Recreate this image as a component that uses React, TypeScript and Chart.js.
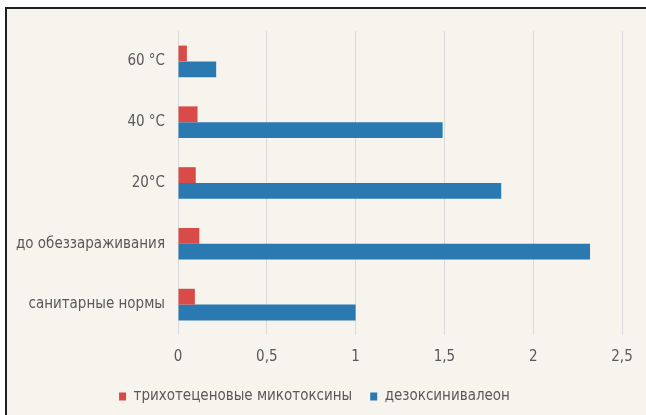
import React, { useEffect, useRef } from "react";
import { Chart, registerables } from "chart.js";

Chart.register(...registerables);

const categories = ["60 °C", "40 °C", "20°C", "до обеззараживания", "санитарные нормы"];
const trichothecenes = [0.05, 0.11, 0.1, 0.12, 0.095];
const deoxynivalenol = [0.215, 1.49, 1.82, 2.32, 1.0];
const seriesNames = ["трихотеценовые микотоксины", "дезоксинивалеон"];
const xTicks = [0, 0.5, 1, 1.5, 2, 2.5];

const FONT = "'Liberation Sans Narrow', 'DejaVu Sans Condensed', 'Open Sans', sans-serif";
const TEXT = "#595959";

export default function App() {
  const ref = useRef<HTMLCanvasElement | null>(null);
  useEffect(() => {
    if (!ref.current) return;
    const chart = new Chart(ref.current, {
      type: "bar",
      data: {
        labels: categories,
        datasets: [
          {
            label: seriesNames[0],
            data: trichothecenes,
            backgroundColor: "#d94b48",
            categoryPercentage: 0.52,
            barPercentage: 1.0,
          },
          {
            label: seriesNames[1],
            data: deoxynivalenol,
            backgroundColor: "#2a7ab1",
            categoryPercentage: 0.52,
            barPercentage: 1.0,
          },
        ],
      },
      options: {
        indexAxis: "y",
        animation: false,
        responsive: false,
        maintainAspectRatio: false,
        layout: { padding: { top: 18, right: 24, left: 0, bottom: 0 } },
        scales: {
          x: {
            min: 0,
            max: 2.5,
            afterBuildTicks: (axis: any) => {
              axis.ticks = xTicks.map((v) => ({ value: v }));
            },
            afterFit: (axis: any) => {
              axis.height = 36;
            },
            grid: { color: "#d9d9d9", drawTicks: false, lineWidth: 1 },
            border: { display: false },
            ticks: {
              padding: 13,
              color: TEXT,
              font: { family: FONT, size: 15 },
              callback: (v: any) => String(v).replace(".", ","),
            },
          },
          y: {
            afterFit: (axis: any) => {
              axis.width = 171;
            },
            grid: { display: false, drawTicks: false },
            border: { display: false },
            ticks: {
              padding: 13,
              color: TEXT,
              font: { family: FONT, size: 15 },
            },
          },
        },
        plugins: {
          legend: {
            position: "bottom",
            labels: {
              boxWidth: 7,
              boxHeight: 8,
              color: TEXT,
              font: { family: FONT, size: 15 },
              padding: 18,
            },
          },
          tooltip: { enabled: false },
        },
      },
    });
    return () => chart.destroy();
  }, []);
  return (
    <div
      style={{
        position: "absolute",
        left: 5,
        top: 7,
        width: 660,
        height: 420,
        borderTop: "2px solid #1e1e1e",
        borderLeft: "2px solid #1e1e1e",
        background: "#f7f3ed",
      }}
    >
      <canvas ref={ref} width={639} height={405} style={{ display: "block" }} />
    </div>
  );
}
